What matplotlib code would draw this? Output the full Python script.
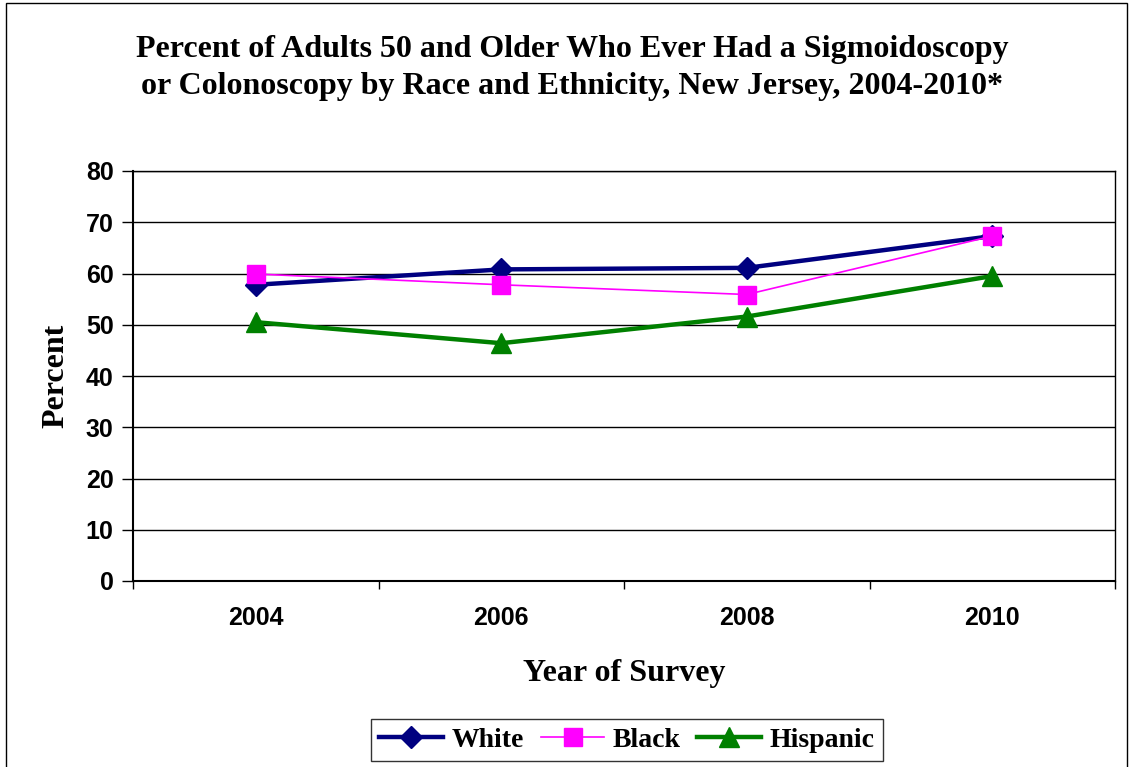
import matplotlib.pyplot as plt
from matplotlib.patches import Rectangle

# Данные
years = ['2004', '2006', '2008', '2010']
white = [57.8, 60.8, 61.1, 67.3]
black = [59.9, 57.8, 55.9, 67.3]
hispanic = [50.5, 46.4, 51.6, 59.5]
yticks = [0, 10, 20, 30, 40, 50, 60, 70, 80]

title1 = 'Percent of Adults 50 and Older Who Ever Had a Sigmoidoscopy'
title2 = 'or Colonoscopy by Race and Ethnicity, New Jersey, 2004-2010*'

serif = 'Liberation Serif'
sans = 'Liberation Sans'

fig = plt.figure(figsize=(11.3, 7.67), dpi=100)
ax = fig.add_axes([133 / 1130, 186 / 767, 982 / 1130, 410 / 767])

x = range(len(years))
ax.plot(x, white, color='#000080', lw=3.2, marker='D', markersize=11, label='White', zorder=3)
ax.plot(x, black, color='#FF00FF', lw=1.2, marker='s', markersize=13, label='Black', zorder=4)
ax.plot(x, hispanic, color='#008000', lw=3.2, marker='^', markersize=14, label='Hispanic', zorder=3)

ax.set_xlim(-0.5, 3.5)
ax.set_ylim(0, 80)
ax.set_yticks(yticks)
ax.yaxis.grid(True, color='black', lw=1)
ax.set_axisbelow(True)

ax.set_xticks(list(x))
ax.set_xticklabels(years, fontfamily=sans, fontweight='bold', fontsize=18)
ax.set_xticks([-0.5, 0.5, 1.5, 2.5, 3.5], minor=True)
ax.tick_params(axis='x', which='major', length=0, pad=18)
ax.tick_params(axis='x', which='minor', length=6, width=1, direction='out')
ax.tick_params(axis='y', length=8, width=1, pad=6)
for lab in ax.get_yticklabels():
    lab.set_fontfamily(sans)
    lab.set_fontweight('bold')
    lab.set_fontsize(18)

for s in ax.spines.values():
    s.set_color('black')
    s.set_linewidth(1)
ax.spines['left'].set_linewidth(1.5)
ax.spines['bottom'].set_linewidth(1.5)

ax.set_ylabel('Percent', fontfamily=serif, fontweight='bold', fontsize=23, labelpad=11)
ax.set_xlabel('Year of Survey', fontfamily=serif, fontweight='bold', fontsize=23, labelpad=21)

fig.text(572 / 1130, 1 - 57 / 767, title1, ha='center', va='baseline',
         fontfamily=serif, fontweight='bold', fontsize=23)
fig.text(572 / 1130, 1 - 94 / 767, title2, ha='center', va='baseline',
         fontfamily=serif, fontweight='bold', fontsize=23)

leg = fig.legend(loc='center', bbox_to_anchor=(627 / 1130, 1 - 740 / 767), ncol=3,
                 prop={'family': serif, 'weight': 'bold', 'size': 20},
                 frameon=True, fancybox=False, edgecolor='black', handlelength=2.3,
                 handletextpad=0.3, columnspacing=0.6, borderpad=0.3)
leg.get_frame().set_linewidth(1)

# рамка всей картинки
fig.patches.append(Rectangle((6 / 1130, -0.01), 1121 / 1130, 1 - 3 / 767 + 0.01,
                             transform=fig.transFigure, fill=False, edgecolor='black', lw=1))

fig.savefig('out.png', dpi=100)
